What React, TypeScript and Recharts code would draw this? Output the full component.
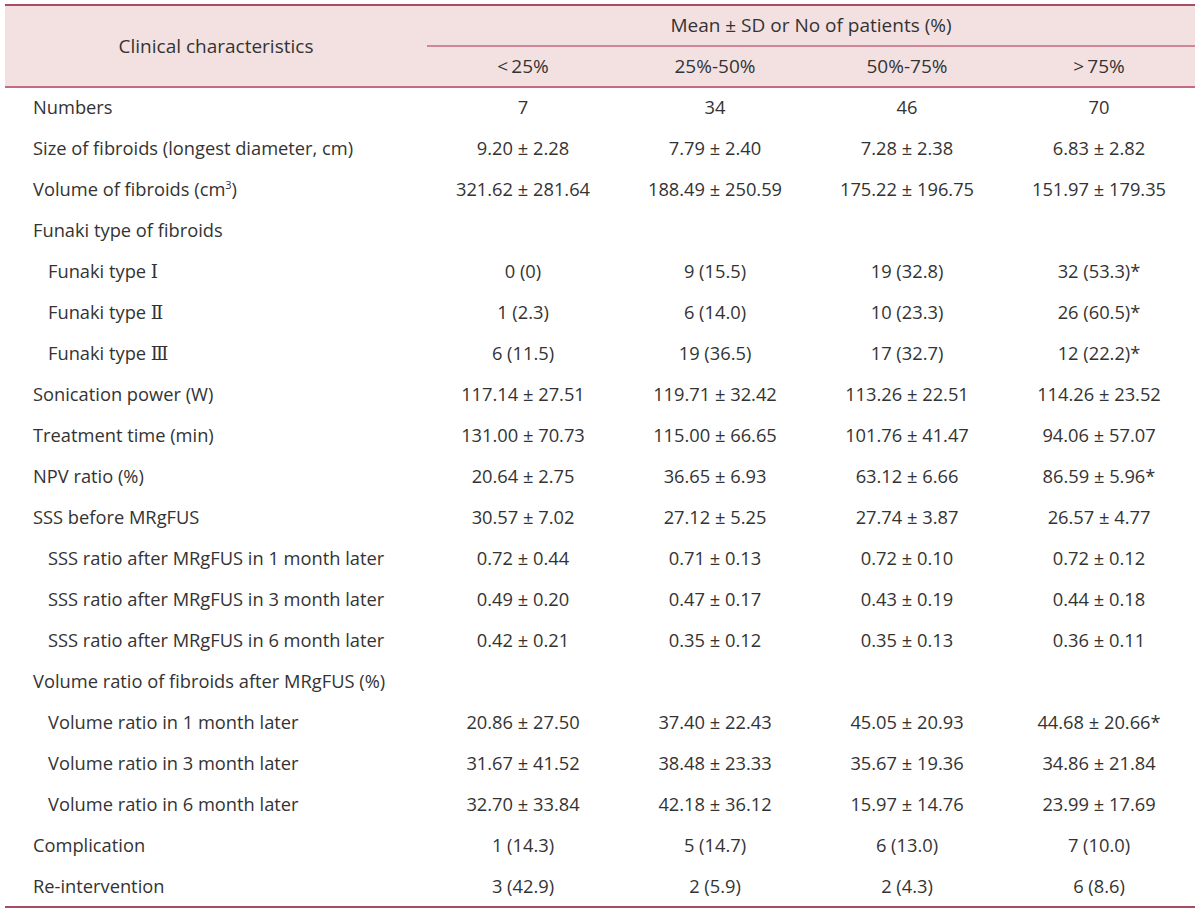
import React from 'react';
import { ScatterChart, Scatter, XAxis, YAxis, ReferenceArea, ReferenceLine } from 'recharts';

// ---------- data ----------
const STUB_HEADER = 'Clinical characteristics';
const SPANNER_LABEL = 'Mean ± SD or No of patients (%)';
const GROUP_LABELS = ['<\u200925%', '25%-50%', '50%-75%', '>\u200975%'];

const ROW_LABELS = [
  'Numbers',
  'Size of fibroids (longest diameter, cm)',
  'Volume of fibroids (cm^3)',
  'Funaki type of fibroids',
  'Funaki type Ⅰ',
  'Funaki type Ⅱ',
  'Funaki type Ⅲ',
  'Sonication power (W)',
  'Treatment time (min)',
  'NPV ratio (%)',
  'SSS before MRgFUS',
  'SSS ratio after MRgFUS in 1 month later',
  'SSS ratio after MRgFUS in 3 month later',
  'SSS ratio after MRgFUS in 6 month later',
  'Volume ratio of fibroids after MRgFUS (%)',
  'Volume ratio in 1 month later',
  'Volume ratio in 3 month later',
  'Volume ratio in 6 month later',
  'Complication',
  'Re-intervention',
];

const INDENTED_ROWS = [
  'Funaki type Ⅰ',
  'Funaki type Ⅱ',
  'Funaki type Ⅲ',
  'SSS ratio after MRgFUS in 1 month later',
  'SSS ratio after MRgFUS in 3 month later',
  'SSS ratio after MRgFUS in 6 month later',
  'Volume ratio in 1 month later',
  'Volume ratio in 3 month later',
  'Volume ratio in 6 month later',
];

const GROUP_LT25 = ['7', '9.20 ± 2.28', '321.62 ± 281.64', '', '0 (0)', '1 (2.3)', '6 (11.5)', '117.14 ± 27.51', '131.00 ± 70.73', '20.64 ± 2.75', '30.57 ± 7.02', '0.72 ± 0.44', '0.49 ± 0.20', '0.42 ± 0.21', '', '20.86 ± 27.50', '31.67 ± 41.52', '32.70 ± 33.84', '1 (14.3)', '3 (42.9)'];
const GROUP_25_50 = ['34', '7.79 ± 2.40', '188.49 ± 250.59', '', '9 (15.5)', '6 (14.0)', '19 (36.5)', '119.71 ± 32.42', '115.00 ± 66.65', '36.65 ± 6.93', '27.12 ± 5.25', '0.71 ± 0.13', '0.47 ± 0.17', '0.35 ± 0.12', '', '37.40 ± 22.43', '38.48 ± 23.33', '42.18 ± 36.12', '5 (14.7)', '2 (5.9)'];
const GROUP_50_75 = ['46', '7.28 ± 2.38', '175.22 ± 196.75', '', '19 (32.8)', '10 (23.3)', '17 (32.7)', '113.26 ± 22.51', '101.76 ± 41.47', '63.12 ± 6.66', '27.74 ± 3.87', '0.72 ± 0.10', '0.43 ± 0.19', '0.35 ± 0.13', '', '45.05 ± 20.93', '35.67 ± 19.36', '15.97 ± 14.76', '6 (13.0)', '2 (4.3)'];
const GROUP_GT75 = ['70', '6.83 ± 2.82', '151.97 ± 179.35', '', '32 (53.3)*', '26 (60.5)*', '12 (22.2)*', '114.26 ± 23.52', '94.06 ± 57.07', '86.59 ± 5.96*', '26.57 ± 4.77', '0.72 ± 0.12', '0.44 ± 0.18', '0.36 ± 0.11', '', '44.68 ± 20.66*', '34.86 ± 21.84', '23.99 ± 17.69', '7 (10.0)', '6 (8.6)'];

const GROUP_VALUES = [GROUP_LT25, GROUP_25_50, GROUP_50_75, GROUP_GT75];

// ---------- layout / style ----------
const W = 1200;
const H = 913;
const MARGIN = { top: 5, right: 5, bottom: 6, left: 5 };
const STUB_W = 422;
const LABEL_X = 33;
const INDENT = 15;
const HEADER_ROWS = 2;
const TOTAL_ROWS = HEADER_ROWS + ROW_LABELS.length;
const FONT = "'Open Sans', 'Noto Sans CJK KR', sans-serif";
const NUMERAL_FONT = "'DejaVu Serif', 'Liberation Serif', 'Noto Sans CJK KR', serif";
const FONT_SIZE = 18.3;
const HEADER_FONT_SIZE = 19;
const BASELINE_SHIFT = 0.36; // em, to vertically centre glyphs on the row
const TEXT_COLOR = '#333333';
const HEADER_BG = '#f3e1e2';
const RULE_DARK = '#a94b62';
const RULE_LIGHT = '#c56a80';

const headerCells = GROUP_LABELS.map((label, c) => ({ c, r: 1, text: label, header: true }));
const bodyCells = ROW_LABELS.flatMap((_, i) =>
  GROUP_VALUES.map((vals, c) => ({ c, r: i + HEADER_ROWS, text: vals[i], header: false }))
);
const ROW_TICKS = Array.from({ length: TOTAL_ROWS }, (_, i) => i);

const CellText = (p: any) => {
  const text = p.payload?.text ?? '';
  if (!text) return <g />;
  const fs = p.payload?.header ? HEADER_FONT_SIZE : FONT_SIZE;
  return (
    <text
      x={p.cx}
      y={p.cy + fs * BASELINE_SHIFT}
      textAnchor="middle"
      fontFamily={FONT}
      fontSize={fs}
      fill={TEXT_COLOR}
    >
      {text}
    </text>
  );
};

const renderLabel = (label: string) => {
  const supIdx = label.indexOf('^');
  if (supIdx >= 0) {
    return (
      <>
        <tspan>{label.slice(0, supIdx)}</tspan>
        <tspan dy={-7} fontSize={11}>{label.charAt(supIdx + 1)}</tspan>
        <tspan dy={7}>{label.slice(supIdx + 2)}</tspan>
      </>
    );
  }
  const m = label.match(/[\u2160-\u216B]+$/);
  if (m) {
    return (
      <>
        <tspan>{label.slice(0, m.index)}</tspan>
        <tspan fontFamily={NUMERAL_FONT}>{m[0]}</tspan>
      </>
    );
  }
  return label;
};

const RowTick = (p: any) => {
  const idx = p.payload.value - HEADER_ROWS;
  if (idx < 0 || idx >= ROW_LABELS.length) return <g />;
  const label = ROW_LABELS[idx];
  const x = LABEL_X + (INDENTED_ROWS.includes(label) ? INDENT : 0);
  return (
    <text
      x={x}
      y={p.y + FONT_SIZE * BASELINE_SHIFT}
      textAnchor="start"
      fontFamily={FONT}
      fontSize={FONT_SIZE}
      fill={TEXT_COLOR}
    >
      {renderLabel(label)}
    </text>
  );
};

const HeaderBand = (p: any) => {
  const { x, y, width, height } = p;
  return (
    <g>
      <rect x={x - STUB_W} y={y} width={width + STUB_W} height={height} fill={HEADER_BG} />
      <text
        x={x - STUB_W / 2}
        y={y + height / 2 + HEADER_FONT_SIZE * BASELINE_SHIFT}
        textAnchor="middle"
        fontFamily={FONT}
        fontSize={HEADER_FONT_SIZE}
        fill={TEXT_COLOR}
      >
        {STUB_HEADER}
      </text>
      <text
        x={x + width / 2}
        y={y + height / 4 + HEADER_FONT_SIZE * BASELINE_SHIFT}
        textAnchor="middle"
        fontFamily={FONT}
        fontSize={HEADER_FONT_SIZE}
        fill={TEXT_COLOR}
      >
        {SPANNER_LABEL}
      </text>
    </g>
  );
};

const fullRule = (color: string, w: number) => (p: any) => (
  <line x1={p.x1 - STUB_W} y1={p.y1} x2={p.x2} y2={p.y2} stroke={color} strokeWidth={w} />
);

export default function App() {
  return (
    <div style={{ position: 'absolute', left: 0, top: 0, width: W, height: H, background: '#fff' }}>
      <ScatterChart width={W} height={H} margin={MARGIN}>
        <XAxis type="number" dataKey="c" domain={[-0.5, GROUP_LABELS.length - 0.5]} hide allowDataOverflow />
        <YAxis
          type="number"
          dataKey="r"
          domain={[-0.5, TOTAL_ROWS - 0.5]}
          reversed
          ticks={ROW_TICKS}
          interval={0}
          width={STUB_W}
          axisLine={false}
          tickLine={false}
          tick={<RowTick />}
          allowDataOverflow
        />
        <ReferenceArea
          y1={-0.5}
          y2={HEADER_ROWS - 0.5}
          ifOverflow="visible"
          shape={<HeaderBand />}
        />
        <ReferenceLine y={0.5} ifOverflow="visible" stroke={RULE_LIGHT} strokeWidth={1.5} />
        <ReferenceLine y={-0.5} ifOverflow="visible" shape={fullRule(RULE_DARK, 2)} />
        <ReferenceLine y={HEADER_ROWS - 0.5} ifOverflow="visible" shape={fullRule(RULE_LIGHT, 2)} />
        <ReferenceLine y={TOTAL_ROWS - 0.5} ifOverflow="visible" shape={fullRule(RULE_DARK, 2)} />
        <Scatter data={headerCells} shape={<CellText />} isAnimationActive={false} />
        <Scatter data={bodyCells} shape={<CellText />} isAnimationActive={false} />
      </ScatterChart>
    </div>
  );
}
